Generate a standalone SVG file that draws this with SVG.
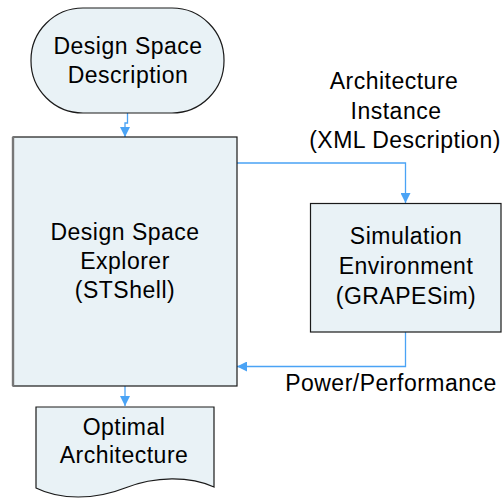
<svg xmlns="http://www.w3.org/2000/svg" width="502" height="500" viewBox="0 0 502 500">
<defs>
<style>
.shape{fill:#e9f2f6;stroke:#1a1a1a;stroke-width:1.2}
.t{font-family:"Liberation Sans",Arial,sans-serif;font-size:23px;fill:#000;text-anchor:middle;letter-spacing:0.5px}
.c{fill:none;stroke:#4aa3f5;stroke-width:1.3}
</style>
<marker id="ah" viewBox="0 0 10 10" refX="10" refY="5" markerWidth="10" markerHeight="10" markerUnits="userSpaceOnUse" orient="auto">
<path d="M0,0 L10,5 L0,10 Z" fill="#4aa3f5"/>
</marker>
</defs>
<rect width="502" height="500" fill="#fff"/>
<g id="connectors">
<path class="c" d="M127.5,113 V123 H125 V137" marker-end="url(#ah)"/>
<path class="c" d="M237,163 H405.5 V203" marker-end="url(#ah)"/>
<path class="c" d="M405.5,332 V366.5 H237" marker-end="url(#ah)"/>
<path class="c" d="M125,386 V406" marker-end="url(#ah)"/>
</g>
<g id="design-space-description">
<rect class="shape" x="31" y="8" width="193" height="105" rx="52" ry="52"/>
<text class="t" x="128" y="54">Design Space</text>
<text class="t" x="128" y="83">Description</text>
</g>
<g id="design-space-explorer">
<rect class="shape" x="13" y="137" width="224" height="249"/>
<line x1="13" y1="137" x2="13" y2="386" stroke="#777" stroke-width="2.4"/>
<text class="t" x="125" y="240">Design Space</text>
<text class="t" x="125" y="269">Explorer</text>
<text class="t" x="125" y="298">(STShell)</text>
</g>
<g id="simulation-environment">
<rect class="shape" x="310.5" y="203.5" width="190.5" height="128.5"/>
<text class="t" x="406" y="244">Simulation</text>
<text class="t" x="406" y="274">Environment</text>
<text class="t" x="406" y="304">(GRAPESim)</text>
</g>
<g id="optimal-architecture">
<path class="shape" d="M36,407 H214 V487 C190,476 155,476 125,488 C95,500 60,500 36,488 Z"/>
<text class="t" x="124" y="435">Optimal</text>
<text class="t" x="124" y="463">Architecture</text>
</g>
<g id="labels">
<text class="t" x="394" y="89">Architecture</text>
<text class="t" x="396" y="119">Instance</text>
<text class="t" x="405" y="148">(XML Description)</text>
<text class="t" x="391" y="391">Power/Performance</text>
</g>
</svg>
